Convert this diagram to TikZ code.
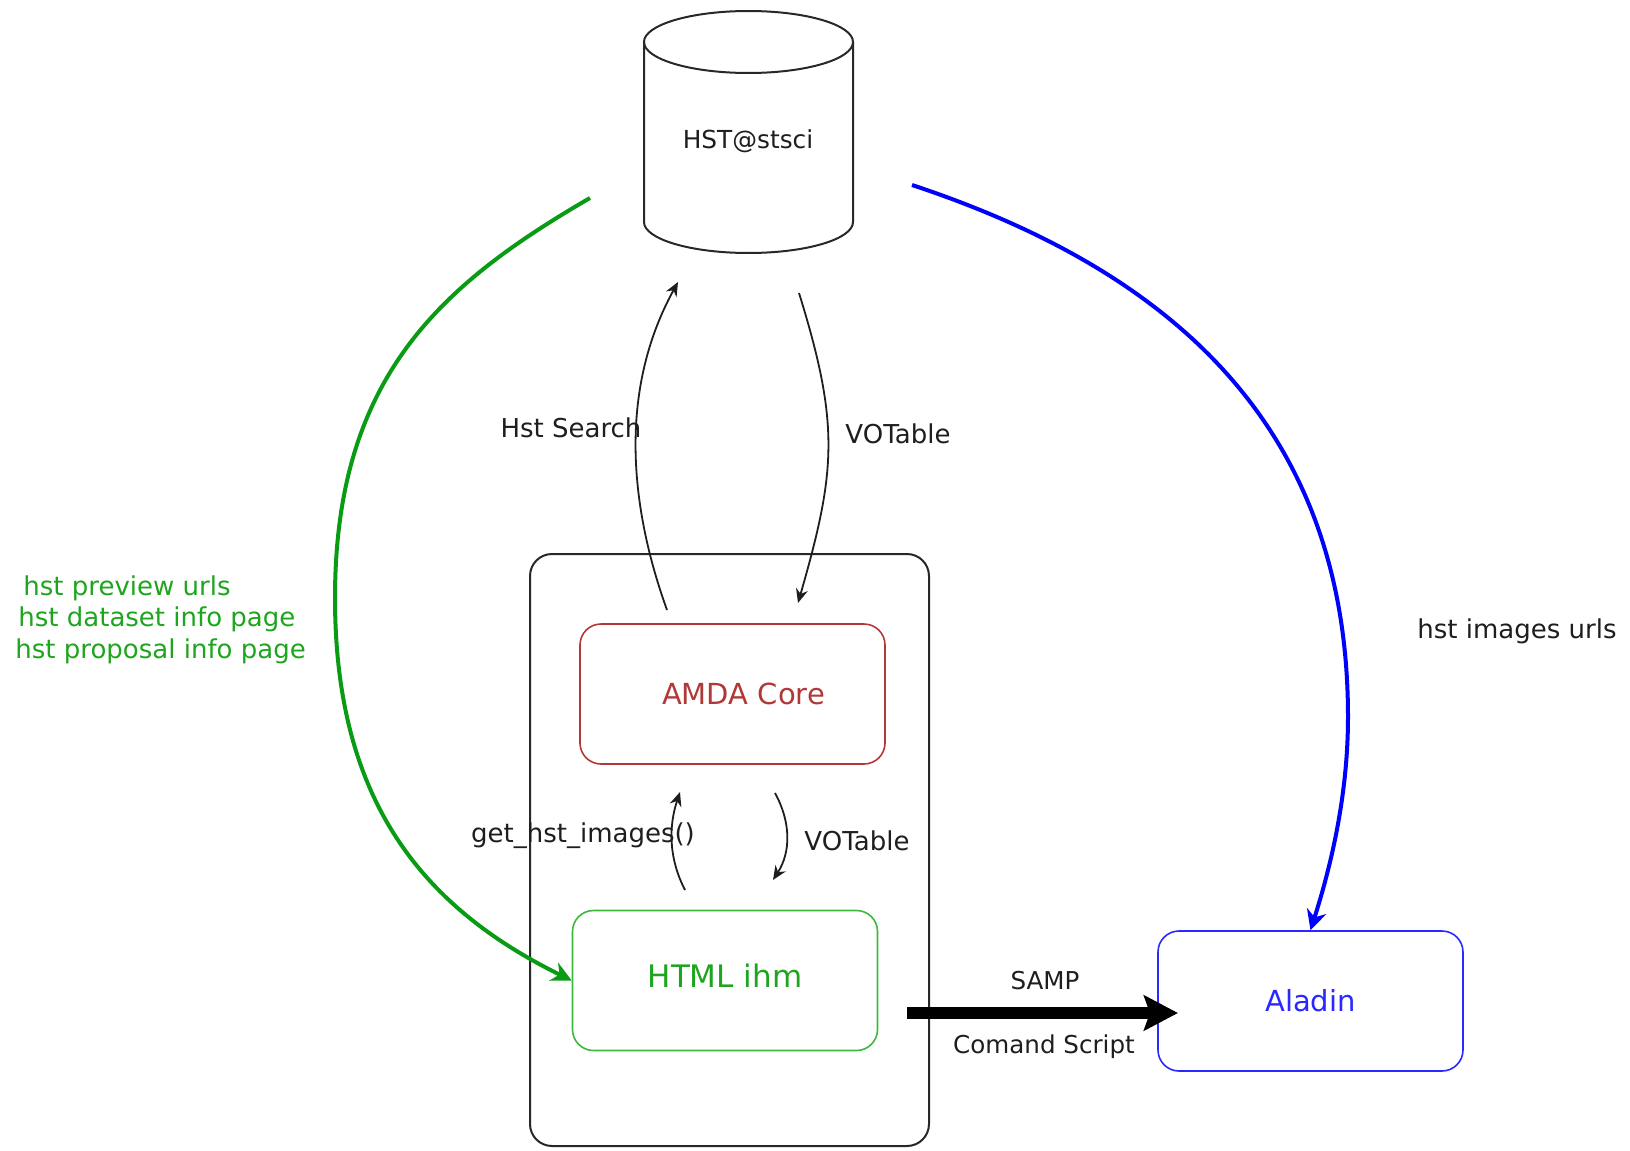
\documentclass[tikz,border=0pt]{standalone}
\usepackage{fontspec}
\setmainfont{DejaVu Sans}
\usetikzlibrary{arrows.meta,positioning,calc}
\definecolor{labelgray}{RGB}{30,30,30}
\definecolor{outergray}{RGB}{40,40,40}
\definecolor{amdared}{RGB}{178,56,56}
\definecolor{ihmgreen}{RGB}{30,165,30}
\definecolor{ihmborder}{RGB}{60,185,60}
\definecolor{feedgreen}{RGB}{10,155,20}
\definecolor{aladinblue}{RGB}{40,40,255}

\begin{document}
\begin{tikzpicture}[x=0.5pt,y=0.5pt,
  lbl/.style={text=labelgray,font=\fontsize{13}{15}\selectfont,inner sep=0pt},
  greenlbl/.style={text=ihmgreen,font=\fontsize{13}{15}\selectfont,inner sep=0pt,anchor=base west},
  module/.style={draw,rounded corners=10.5pt,line width=0.8pt,minimum width=152.5pt,
    minimum height=70pt,inner sep=0pt,font=\fontsize{14.5}{17}\selectfont},
  flow/.style={-{Stealth[length=7pt,width=6pt]},line width=0.9pt,labelgray},
  feed/.style={-{Stealth[length=10pt,width=10pt]},line width=2pt}]
\useasboundingbox (0,0) rectangle (1630,-1151);
% Archive cylinder
\draw[line width=1pt,outergray] (748.5,-42) ellipse[x radius=104.5,y radius=31];
\draw[line width=1pt,outergray] (644,-42) -- (644,-222)
  arc[start angle=180,end angle=360,x radius=104.5,y radius=31] -- (853,-42);
\node[lbl,font=\fontsize{12.4}{15}\selectfont,anchor=base] (db) at (748,-148) {HST@stsci};
% AMDA container and modules
\node[draw=outergray,line width=1pt,rounded corners=11pt,minimum width=199.5pt,
  minimum height=296pt] (amda) at (729.5,-850) {};
\node[module,draw=amdared,text=amdared] (core) at (732.5,-694) {\hspace*{11pt}AMDA Core};
\node[module,draw=ihmborder,text=ihmgreen,font=\fontsize{15.5}{18}\selectfont,
  text depth=5pt] (html) at (725,-980.5) {HTML ihm};
\node[module,draw=aladinblue,text=aladinblue] (aladin) at (1310.5,-1001) {Aladin};
% Free ends of the connectors
\coordinate (searchS) at (667,-610);
\coordinate (searchE) at (678,-282);
\coordinate (votS) at (799,-293);
\coordinate (votE) at (798,-603);
\coordinate (getS) at (685,-890);
\coordinate (getE) at (680,-792);
\coordinate (votS2) at (775,-793);
\coordinate (votE2) at (773,-880);
\coordinate (greenS) at (590,-198);
\coordinate (blueS) at (912,-185);
\coordinate (sampS) at (907,-1013);
\coordinate (sampE) at (1178,-1013);
% Requests and answers
\draw[flow] (searchS) .. controls (631,-510) and (617,-393) .. (searchE);
\draw[flow] (votS) .. controls (840,-425) and (836,-471) .. (votE);
\draw[flow] (getS) .. controls (668,-857) and (669,-825) .. (getE);
\draw[flow] (votS2) .. controls (791,-822) and (791,-852) .. (votE2);
\node[lbl,anchor=base] (lSearch) at (571,-437) {Hst Search};
\node[lbl,anchor=base] (lVotA) at (898,-443) {VOTable};
\node[lbl,anchor=base] (lGet) at (583,-842) {get\_hst\_images()};
\node[lbl,anchor=base] (lVotB) at (857,-850) {VOTable};
% Links to the web pages
\draw[feed,feedgreen] (greenS) .. controls (440,-285) and (335,-378) .. (335,-598)
  .. controls (335,-798) and (420,-906) .. (html.west);
\draw[feed,blue] (blueS) .. controls (1172,-271) and (1348,-427) .. (1348,-717)
  .. controls (1348,-797) and (1330,-869) .. (aladin.north);
\node[greenlbl] (lPreview) at (23,-595) {hst preview urls};
\node[greenlbl] (lDataset) at (18,-626) {hst dataset info page};
\node[greenlbl] (lProposal) at (15,-658) {hst proposal info page};
\node[lbl,anchor=base] (lUrls) at (1517,-638) {hst images urls};
% SAMP message
\draw[line width=6pt,-{Stealth[length=17pt,width=17.5pt,inset=3pt]}] (sampS) -- (sampE);
\node[lbl,font=\fontsize{12.3}{15}\selectfont,anchor=base] (lSamp) at (1045,-989) {SAMP};
\node[lbl,font=\fontsize{12.3}{15}\selectfont,anchor=base] (lScript) at (1044,-1053) {Comand Script};
\end{tikzpicture}
\end{document}
